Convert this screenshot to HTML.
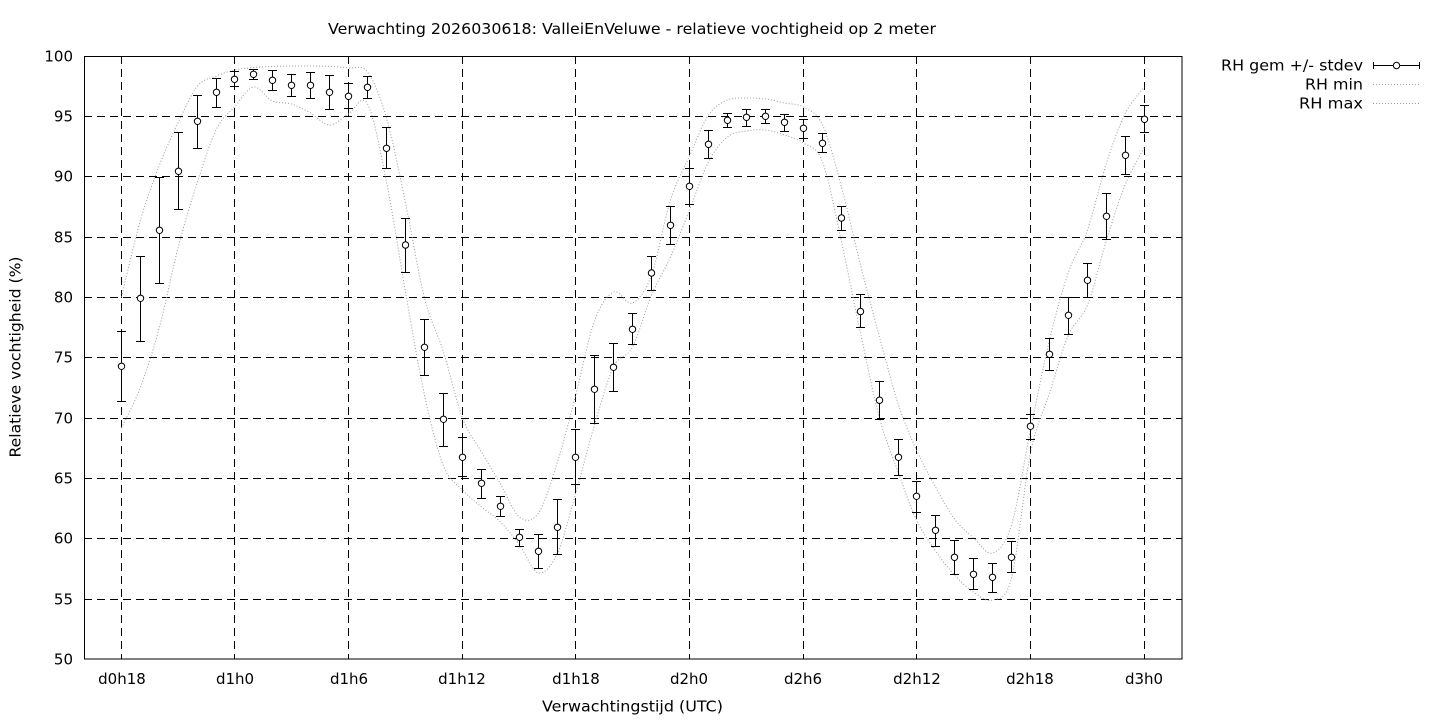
<!DOCTYPE html>
<html>
<head>
<meta charset="utf-8">
<style>
html,body{margin:0;padding:0;background:#fff;}
svg{display:block;}
text{font-family:"DejaVu Sans","Liberation Sans",sans-serif;font-size:15px;fill:#000;}
</style>
</head>
<body>
<svg width="1440" height="720" viewBox="0 0 1440 720" xmlns="http://www.w3.org/2000/svg">
<rect x="0" y="0" width="1440" height="720" fill="#fff"/>

<g stroke="#000" stroke-width="1" stroke-dasharray="8 5" fill="none">
<path d="M84 116.5H1182 M84 176.5H1182 M84 237.5H1182 M84 297.5H1182 M84 357.5H1182 M84 418.5H1182 M84 478.5H1182 M84 538.5H1182 M84 599.5H1182"/>
<path d="M121.5 56V659 M234.5 56V659 M348.5 56V659 M462.5 56V659 M575.5 56V659 M689.5 56V659 M803.5 56V659 M916.5 56V659 M1030.5 56V659 M1144.5 56V659"/>
</g>

<g fill="none" stroke="#9a9a9a" stroke-width="1" stroke-dasharray="1 2">
<polyline id="cmax" points="121.5,297 140.5,220 159.5,165 178.5,122 197.5,86 216.5,76 234.5,70 253.5,67.5 272.5,66.5 291.5,66 310.5,66 329.5,66.5 348.5,68 367.5,72 386.5,118 405.5,203 424.5,298 443.5,352 462.5,418 481.5,452 500.5,484 519.5,517 538.5,513 557.5,462 575.5,396 594.5,321 613.5,292 632.5,303 651.5,275 670.5,200 689.5,156 708.5,115 727.5,100 746.5,98 765.5,99 784.5,103 803.5,107 822.5,125 841.5,187 860.5,265 879.5,337 898.5,405 916.5,450 935.5,487 954.5,519 973.5,538 992.5,553 1011.5,525 1030.5,430 1049.5,340 1068.5,272 1087.5,230 1106.5,163 1125.5,113 1144.5,87"/>
<polyline id="cmin" points="121.5,428 140.5,387 159.5,327 178.5,246 197.5,182 216.5,129 234.5,107 253.5,87 272.5,101 291.5,104 310.5,113 329.5,125 348.5,114 367.5,104 386.5,182 405.5,292 424.5,395 443.5,466 462.5,490 481.5,507 500.5,522 519.5,545 538.5,573 557.5,553 575.5,494 594.5,425 613.5,367 632.5,347 651.5,295 670.5,257 689.5,210 708.5,162 727.5,137 746.5,131 765.5,130 784.5,135 803.5,143 822.5,162 841.5,242 860.5,333 879.5,418 898.5,473 916.5,520 935.5,551 954.5,575 973.5,592 992.5,600 1011.5,578 1030.5,453 1049.5,393 1068.5,335 1087.5,305 1106.5,240 1125.5,184 1144.5,147"/>
</g>

<rect x="84.5" y="56.5" width="1097.5" height="602.5" fill="none" stroke="#000" stroke-width="1"/>

<path fill="none" stroke="#000" stroke-width="1" d="M121.5 331.5V401.5M117 331.5h9M117 401.5h9 M140.5 256.5V341.5M136 256.5h9M136 341.5h9 M159.5 177.5V283.5M155 177.5h9M155 283.5h9 M178.5 132.5V209.5M174 132.5h9M174 209.5h9 M197.5 95.5V148.5M193 95.5h9M193 148.5h9 M216.5 78.5V107.5M212 78.5h9M212 107.5h9 M234.5 71.5V86.5M230 71.5h9M230 86.5h9 M253.5 69.5V79.5M249 69.5h9M249 79.5h9 M272.5 70.5V90.5M268 70.5h9M268 90.5h9 M291.5 74.5V96.5M287 74.5h9M287 96.5h9 M310.5 72.5V98.5M306 72.5h9M306 98.5h9 M329.5 75.5V109.5M325 75.5h9M325 109.5h9 M348.5 83.5V108.5M344 83.5h9M344 108.5h9 M367.5 76.5V98.5M363 76.5h9M363 98.5h9 M386.5 127.5V168.5M382 127.5h9M382 168.5h9 M405.5 218.5V272.5M401 218.5h9M401 272.5h9 M424.5 319.5V375.5M420 319.5h9M420 375.5h9 M443.5 393.5V446.5M439 393.5h9M439 446.5h9 M462.5 437.5V476.5M458 437.5h9M458 476.5h9 M481.5 469.5V498.5M477 469.5h9M477 498.5h9 M500.5 496.5V516.5M496 496.5h9M496 516.5h9 M519.5 529.5V546.5M515 529.5h9M515 546.5h9 M538.5 534.5V568.5M534 534.5h9M534 568.5h9 M557.5 499.5V554.5M553 499.5h9M553 554.5h9 M575.5 429.5V484.5M571 429.5h9M571 484.5h9 M594.5 355.5V423.5M590 355.5h9M590 423.5h9 M613.5 343.5V391.5M609 343.5h9M609 391.5h9 M632.5 313.5V344.5M628 313.5h9M628 344.5h9 M651.5 256.5V290.5M647 256.5h9M647 290.5h9 M670.5 206.5V244.5M666 206.5h9M666 244.5h9 M689.5 168.5V204.5M685 168.5h9M685 204.5h9 M708.5 130.5V158.5M704 130.5h9M704 158.5h9 M727.5 113.5V127.5M723 113.5h9M723 127.5h9 M746.5 109.5V126.5M742 109.5h9M742 126.5h9 M765.5 109.5V123.5M761 109.5h9M761 123.5h9 M784.5 114.5V131.5M780 114.5h9M780 131.5h9 M803.5 119.5V138.5M799 119.5h9M799 138.5h9 M822.5 133.5V152.5M818 133.5h9M818 152.5h9 M841.5 206.5V230.5M837 206.5h9M837 230.5h9 M860.5 294.5V327.5M856 294.5h9M856 327.5h9 M879.5 381.5V419.5M875 381.5h9M875 419.5h9 M898.5 439.5V475.5M894 439.5h9M894 475.5h9 M916.5 481.5V512.5M912 481.5h9M912 512.5h9 M935.5 515.5V546.5M931 515.5h9M931 546.5h9 M954.5 540.5V574.5M950 540.5h9M950 574.5h9 M973.5 558.5V589.5M969 558.5h9M969 589.5h9 M992.5 563.5V592.5M988 563.5h9M988 592.5h9 M1011.5 541.5V572.5M1007 541.5h9M1007 572.5h9 M1030.5 414.5V439.5M1026 414.5h9M1026 439.5h9 M1049.5 338.5V370.5M1045 338.5h9M1045 370.5h9 M1068.5 297.5V334.5M1064 297.5h9M1064 334.5h9 M1087.5 263.5V297.5M1083 263.5h9M1083 297.5h9 M1106.5 193.5V239.5M1102 193.5h9M1102 239.5h9 M1125.5 136.5V174.5M1121 136.5h9M1121 174.5h9 M1144.5 105.5V132.5M1140 105.5h9M1140 132.5h9"/>

<g fill="#fff" stroke="#000" stroke-width="1">
<circle cx="121.5" cy="366.3" r="3.2"/>
<circle cx="140.5" cy="298.3" r="3.2"/>
<circle cx="159.5" cy="230.3" r="3.2"/>
<circle cx="178.5" cy="171.3" r="3.2"/>
<circle cx="197.5" cy="121.3" r="3.2"/>
<circle cx="216.5" cy="92.3" r="3.2"/>
<circle cx="234.5" cy="79.3" r="3.2"/>
<circle cx="253.5" cy="74.3" r="3.2"/>
<circle cx="272.5" cy="80.3" r="3.2"/>
<circle cx="291.5" cy="85.3" r="3.2"/>
<circle cx="310.5" cy="85.3" r="3.2"/>
<circle cx="329.5" cy="92.3" r="3.2"/>
<circle cx="348.5" cy="96.3" r="3.2"/>
<circle cx="367.5" cy="87.3" r="3.2"/>
<circle cx="386.5" cy="148.3" r="3.2"/>
<circle cx="405.5" cy="245" r="3.2"/>
<circle cx="424.5" cy="347.3" r="3.2"/>
<circle cx="443.5" cy="419.3" r="3.2"/>
<circle cx="462.5" cy="457.3" r="3.2"/>
<circle cx="481.5" cy="483.3" r="3.2"/>
<circle cx="500.5" cy="506.3" r="3.2"/>
<circle cx="519.5" cy="537.3" r="3.2"/>
<circle cx="538.5" cy="551.3" r="3.2"/>
<circle cx="557.5" cy="527.3" r="3.2"/>
<circle cx="575.5" cy="457.3" r="3.2"/>
<circle cx="594.5" cy="389.3" r="3.2"/>
<circle cx="613.5" cy="367.3" r="3.2"/>
<circle cx="632.5" cy="329.3" r="3.2"/>
<circle cx="651.5" cy="273" r="3.2"/>
<circle cx="670.5" cy="225.3" r="3.2"/>
<circle cx="689.5" cy="186.3" r="3.2"/>
<circle cx="708.5" cy="144.3" r="3.2"/>
<circle cx="727.5" cy="120.3" r="3.2"/>
<circle cx="746.5" cy="117.3" r="3.2"/>
<circle cx="765.5" cy="116.3" r="3.2"/>
<circle cx="784.5" cy="122.3" r="3.2"/>
<circle cx="803.5" cy="128.3" r="3.2"/>
<circle cx="822.5" cy="143.3" r="3.2"/>
<circle cx="841.5" cy="218" r="3.2"/>
<circle cx="860.5" cy="311.5" r="3.2"/>
<circle cx="879.5" cy="400.2" r="3.2"/>
<circle cx="898.5" cy="457.3" r="3.2"/>
<circle cx="916.5" cy="496.3" r="3.2"/>
<circle cx="935.5" cy="530.3" r="3.2"/>
<circle cx="954.5" cy="557.3" r="3.2"/>
<circle cx="973.5" cy="574.3" r="3.2"/>
<circle cx="992.5" cy="577.3" r="3.2"/>
<circle cx="1011.5" cy="557.3" r="3.2"/>
<circle cx="1030.5" cy="426.3" r="3.2"/>
<circle cx="1049.5" cy="354.3" r="3.2"/>
<circle cx="1068.5" cy="315.3" r="3.2"/>
<circle cx="1087.5" cy="280.3" r="3.2"/>
<circle cx="1106.5" cy="216.3" r="3.2"/>
<circle cx="1125.5" cy="155.3" r="3.2"/>
<circle cx="1144.5" cy="119.3" r="3.2"/>
</g>

<g text-anchor="end">
<text x="73" y="61.5">100</text>
<text x="73" y="121.5">95</text>
<text x="73" y="181.5">90</text>
<text x="73" y="242.5">85</text>
<text x="73" y="302.5">80</text>
<text x="73" y="362.5">75</text>
<text x="73" y="423.5">70</text>
<text x="73" y="483.5">65</text>
<text x="73" y="543.5">60</text>
<text x="73" y="604.5">55</text>
<text x="73" y="664.5">50</text>
</g>

<g text-anchor="middle">
<text x="122" y="684">d0h18</text>
<text x="235" y="684">d1h0</text>
<text x="349" y="684">d1h6</text>
<text x="462" y="684">d1h12</text>
<text x="576" y="684">d1h18</text>
<text x="689" y="684">d2h0</text>
<text x="803" y="684">d2h6</text>
<text x="917" y="684">d2h12</text>
<text x="1030" y="684">d2h18</text>
<text x="1144" y="684">d3h0</text>
</g>

<text x="632" y="34" text-anchor="middle" textLength="608" lengthAdjust="spacingAndGlyphs">Verwachting 2026030618: ValleiEnVeluwe - relatieve vochtigheid op 2 meter</text>
<text x="632.5" y="711.5" text-anchor="middle" textLength="181" lengthAdjust="spacingAndGlyphs">Verwachtingstijd (UTC)</text>
<text transform="translate(20.5,357) rotate(-90)" x="0" y="0" text-anchor="middle" textLength="201" lengthAdjust="spacingAndGlyphs">Relatieve vochtigheid (%)</text>

<g text-anchor="end">
<text x="1363" y="70.5" textLength="142" lengthAdjust="spacingAndGlyphs">RH gem +/- stdev</text>
<text x="1363" y="89.5" textLength="58" lengthAdjust="spacingAndGlyphs">RH min</text>
<text x="1363" y="108.5" textLength="64" lengthAdjust="spacingAndGlyphs">RH max</text>
</g>
<path d="M1373 65.5H1420 M1373.5 62V69 M1419.5 62V69" stroke="#000" stroke-width="1" fill="none"/>
<circle cx="1396.5" cy="65.5" r="3.2" fill="#fff" stroke="#000" stroke-width="1"/>
<path d="M1373 84.5H1420 M1373 103.5H1420" stroke="#9a9a9a" stroke-width="1" stroke-dasharray="1 2" fill="none"/>
</svg>
<script>
(function(){
  function smooth(id){
    var pl=document.getElementById(id); if(!pl) return;
    var pts=pl.getAttribute('points').trim().split(/\s+/).map(function(p){var a=p.split(',');return [+a[0],+a[1]];});
    var d='M'+pts[0][0]+' '+pts[0][1];
    for(var i=0;i<pts.length-1;i++){
      var p0=pts[i-1]||pts[i],p1=pts[i],p2=pts[i+1],p3=pts[i+2]||pts[i+1];
      var c1x=p1[0]+(p2[0]-p0[0])/6,c1y=p1[1]+(p2[1]-p0[1])/6;
      var c2x=p2[0]-(p3[0]-p1[0])/6,c2y=p2[1]-(p3[1]-p1[1])/6;
      d+=' C'+c1x.toFixed(2)+' '+c1y.toFixed(2)+' '+c2x.toFixed(2)+' '+c2y.toFixed(2)+' '+p2[0]+' '+p2[1];
    }
    var path=document.createElementNS('http://www.w3.org/2000/svg','path');
    path.setAttribute('d',d);
    pl.parentNode.replaceChild(path,pl);
  }
  smooth('cmax');smooth('cmin');
})();
</script>
</body>
</html>
